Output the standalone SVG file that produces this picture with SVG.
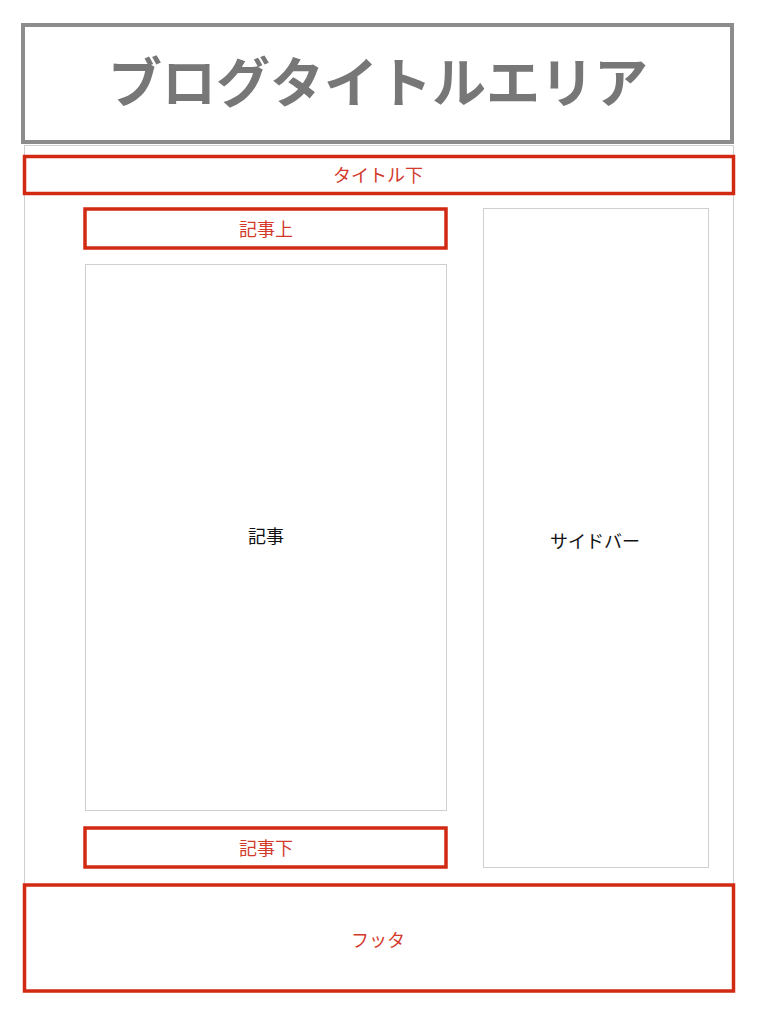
<svg xmlns="http://www.w3.org/2000/svg" width="770" height="1024" viewBox="0 0 770 1024">
<style>
.lt{fill:#fff;stroke:#cfcfcf;stroke-width:1}
.red{fill:#fff;stroke:#d22a12;stroke-width:3.5}
.rt{font-family:"Noto Sans CJK JP","Noto Sans",sans-serif;font-size:18px;fill:#d33a2c;text-anchor:middle}
.bt{font-family:"Noto Sans CJK JP","Noto Sans",sans-serif;font-size:18px;fill:#111;text-anchor:middle}
</style>
<rect width="770" height="1024" fill="#fff"/>
<g id="container"><rect class="lt" x="24.5" y="145.5" width="709" height="739"/></g>
<g id="title">
<rect x="23" y="25" width="709" height="117" fill="#fff" stroke="#8c8c8c" stroke-width="4"/>
<text x="378" y="103" font-family="'Noto Sans CJK JP','Noto Sans',sans-serif" font-size="54" font-weight="bold" fill="#777" text-anchor="middle">ブログタイトルエリア</text>
</g>
<g id="under-title"><rect class="red" x="24.5" y="156.5" width="709" height="37"/><text class="rt" x="378" y="182">タイトル下</text></g>
<g id="above-article"><rect class="red" x="85" y="209" width="361" height="39"/><text class="rt" x="266" y="236">記事上</text></g>
<g id="article"><rect class="lt" x="85.5" y="264.5" width="361" height="546"/><text class="bt" x="266" y="543">記事</text></g>
<g id="sidebar"><rect class="lt" x="483.5" y="208.5" width="225" height="659"/><text class="bt" x="595" y="548">サイドバー</text></g>
<g id="below-article"><rect class="red" x="85" y="828" width="361" height="39"/><text class="rt" x="266" y="855">記事下</text></g>
<g id="footer"><rect class="red" x="24.5" y="885" width="709" height="106"/><text class="rt" x="378" y="947">フッタ</text></g>
<g id="connectors"></g>
</svg>
